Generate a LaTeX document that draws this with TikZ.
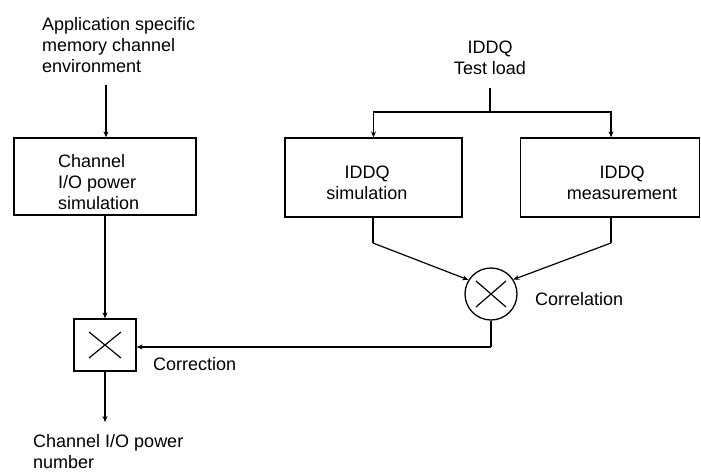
\documentclass[tikz,border=0pt]{standalone}
\usepackage{fontspec}
\setmainfont{Liberation Sans}
\usetikzlibrary{arrows.meta,calc}
\begin{document}
\begin{tikzpicture}[x=1pt,y=1pt,
  txt/.style={inner sep=0pt,font=\fontsize{18}{21}\selectfont},
  blk/.style={draw,line width=1.3pt,inner sep=0pt},
  conn/.style={line width=1.2pt},
  arr/.style={conn,-{Stealth[length=6pt,width=5pt]}}]
\useasboundingbox (0,0) rectangle (701,-474);
% texts
\node[txt,align=left,anchor=west] (env) at (42,-45) {Application specific\\memory channel\\environment};
\node[txt,align=center] (load) at (490,-58) {IDDQ\\Test load};
\node[txt,align=left,anchor=west] (outtxt) at (33,-452) {Channel I/O power\\number};
\node[txt,anchor=west] (corrtxt) at (535,-299) {Correlation};
\node[txt,anchor=west] (cortxt) at (153,-364) {Correction};
% blocks
\node[blk,minimum width=182pt,minimum height=77pt] (ch) at (105,-176.5) {};
\node[blk,minimum width=177pt,minimum height=79pt] (sim) at (373.5,-177.5) {};
\node[blk,minimum width=179pt,minimum height=79pt] (meas) at (610,-177.5) {};
\node[txt,align=left,anchor=west] (chtxt) at (58,-182) {Channel\\I/O power\\simulation};
\node[txt,align=center] (simtxt) at (367,-183) {IDDQ\\simulation};
\node[txt,align=center] (meastxt) at (622,-183) {IDDQ\\measurement};
\node[blk,minimum width=62pt,minimum height=52pt] (cx) at (105,-345) {};
\node[draw,circle,line width=1.3pt,minimum size=52pt,inner sep=0pt] (corr) at (491,-294) {};
% crosses
\draw[conn] ($(cx.center)+(-16,-13)$) -- ($(cx.center)+(16,13)$);
\draw[conn] ($(cx.center)+(-16,13)$) -- ($(cx.center)+(16,-13)$);
\draw[conn] ($(corr.center)+(-15,-13)$) -- ($(corr.center)+(15,13)$);
\draw[conn] ($(corr.center)+(-15,13)$) -- ($(corr.center)+(15,-13)$);
% coordinates
\coordinate (envb) at (106,-85);
\coordinate (loadb) at (490,-88);
\coordinate (jn) at (490,-112);
\coordinate (outp) at (105,-422);
\coordinate (simk) at (373,-243);
\coordinate (meask) at (611,-243);
\coordinate (corrk) at (491,-347);
% connectors
\draw[arr] (envb) -- (envb |- ch.north);
\draw[arr] (ch.south -| cx.north) -- (cx.north);
\draw[arr] (cx.south) -- (outp);
\draw[conn] (loadb) -- (jn);
\draw[arr] (jn) -| (sim.north);
\draw[arr] (jn) -| (meas.north -| meask);
\draw[conn] (sim.south -| simk) -- (simk);
\draw[arr] (simk) -- (corr.148);
\draw[conn] (meas.south -| meask) -- (meask);
\draw[arr] (meask) -- (corr.33);
\draw[conn] (corr.south) -- (corrk);
\draw[arr] (corrk) -- (cx.east |- corrk);
\end{tikzpicture}
\end{document}
